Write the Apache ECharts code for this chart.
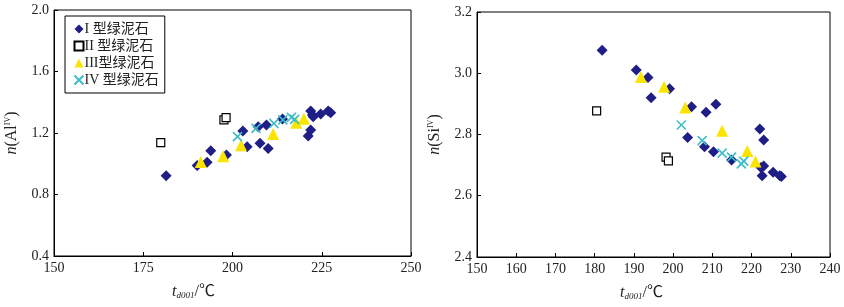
<!DOCTYPE html>
<html>
<head>
<meta charset="utf-8">
<script src="https://cdn.jsdelivr.net/npm/echarts@6/dist/echarts.min.js"></script>
<style>
  html, body { margin: 0; padding: 0; background: #fff; }
  #main { width: 844px; height: 307px; }
</style>
</head>
<body>
<div id="main"></div>
<script>
// 系列名称
var typeNames = ["I 型绿泥石", "II 型绿泥石", "III型绿泥石", "IV 型绿泥石"];

// 左图 n(AlIV) - t
var alTypeI = [[181.4,0.922],[190.1,0.988],[192.9,1.009],[193.9,1.085],[198.3,1.057],[202.9,1.213],
  [204.1,1.111],[207.2,1.241],[207.7,1.133],[209.5,1.252],[210.0,1.100],[214.0,1.291],[221.9,1.343],
  [222.4,1.317],[222.6,1.306],[221.9,1.220],[221.2,1.180],[224.7,1.324],[226.8,1.343],[227.5,1.332]];
var alTypeII = [[179.9,1.137],[197.6,1.285],[198.2,1.300]];
var alTypeIII = [[191.1,1.012],[197.4,1.049],[202.4,1.121],[211.4,1.194],[217.9,1.266],[220.0,1.292]];
var alTypeIV = [[201.4,1.176],[206.6,1.230],[211.6,1.263],[214.1,1.285],[216.5,1.302],[217.4,1.289]];

// 右图 n(SiIV) - t
var siTypeI = [[181.9,3.075],[190.6,3.011],[193.6,2.986],[194.4,2.920],[199.1,2.949],[203.7,2.790],
  [204.7,2.891],[208.0,2.760],[208.4,2.873],[210.3,2.744],[210.9,2.899],[214.9,2.717],[222.1,2.818],
  [223.1,2.782],[222.7,2.665],[223.1,2.697],[222.4,2.692],[225.5,2.677],[227.6,2.663],[227.2,2.665]];
var siTypeII = [[180.5,2.877],[198.2,2.726],[198.8,2.714]];
var siTypeIII = [[191.8,2.988],[197.7,2.956],[203.1,2.888],[212.5,2.812],[218.9,2.746],[221.0,2.712]];
var siTypeIV = [[202.1,2.831],[207.4,2.780],[212.5,2.739],[214.9,2.726],[217.4,2.704],[218.0,2.713]];

// 坐标轴刻度
var alXTicks = { min: 150, max: 250, interval: 25 };
var alYTicks = { min: 0.4, max: 2.0, interval: 0.4 };
var siXTicks = { min: 150, max: 240, interval: 10 };
var siYTicks = { min: 2.4, max: 3.2, interval: 0.2 };

var serif = "'Liberation Serif', 'Times New Roman', 'Noto Sans CJK SC', serif";
var crossPath = "path://M0,0L10,10M10,0L0,10";

function xAxisOf(idx, t, padRight) {
  return {
    gridIndex: idx, type: "value", min: t.min, max: t.max, interval: t.interval,
    name: "{t|t}{sub|d001}{n|/℃}", nameLocation: "middle", nameGap: 27,
    nameTextStyle: {
      padding: [0, padRight, 0, 0],
      rich: {
        t: { fontFamily: serif, fontStyle: "italic", fontSize: 16, color: "#222" },
        sub: { fontFamily: serif, fontStyle: "italic", fontSize: 9, color: "#222", padding: [8, 0, 0, 0] },
        n: { fontFamily: serif, fontSize: 16, color: "#222" }
      }
    },
    axisLine: { lineStyle: { color: "#000", width: 1 } },
    axisTick: { inside: true, length: 4, lineStyle: { color: "#000" } },
    axisLabel: { fontFamily: serif, fontSize: 14, color: "#222", margin: 5 },
    splitLine: { show: false }
  };
}

function yAxisOf(idx, t, elem) {
  return {
    gridIndex: idx, type: "value", min: t.min, max: t.max, interval: t.interval,
    name: "{n|n}{p|(" + elem + "}{sup|IV}{p|)}", nameLocation: "middle", nameGap: 34,
    nameTextStyle: {
      rich: {
        n: { fontFamily: serif, fontStyle: "italic", fontSize: 16, color: "#222" },
        p: { fontFamily: serif, fontSize: 16, color: "#222" },
        sup: { fontFamily: serif, fontSize: 8, color: "#222", padding: [0, 0, 8, 0] }
      }
    },
    axisLine: { lineStyle: { color: "#000", width: 1 } },
    axisTick: { inside: true, length: 4, lineStyle: { color: "#000" } },
    axisLabel: {
      fontFamily: serif, fontSize: 14, color: "#222", margin: 5,
      formatter: function (v) { return v.toFixed(1); }
    },
    splitLine: { show: false }
  };
}

function seriesOf(idx, d1, d2, d3, d4) {
  return [
    { name: typeNames[0], type: "scatter", xAxisIndex: idx, yAxisIndex: idx, data: d1,
      symbol: "diamond", symbolSize: 11, itemStyle: { color: "#1e1e86", opacity: 1 } },
    { name: typeNames[1], type: "scatter", xAxisIndex: idx, yAxisIndex: idx, data: d2,
      symbol: "rect", symbolSize: 8, itemStyle: { color: "#fff", borderColor: "#000", borderWidth: 1.2, opacity: 1 } },
    { name: typeNames[2], type: "scatter", xAxisIndex: idx, yAxisIndex: idx, data: d3,
      symbol: "triangle", symbolSize: 12, itemStyle: { color: "#fbe400", opacity: 1 } },
    { name: typeNames[3], type: "scatter", xAxisIndex: idx, yAxisIndex: idx, data: d4,
      symbol: crossPath, symbolSize: 9, itemStyle: { color: "none", borderColor: "#3dbec6", borderWidth: 1.6, opacity: 1 } }
  ];
}

var myChart = echarts.init(document.getElementById("main"), null, { renderer: "canvas" });
var option = {
  backgroundColor: "#fff",
  animation: false,
  grid: [
    { left: 54, top: 10, width: 357, height: 246, show: true, borderColor: "#000", borderWidth: 1, backgroundColor: "transparent" },
    { left: 477, top: 12, width: 353, height: 245, show: true, borderColor: "#000", borderWidth: 1, backgroundColor: "transparent" }
  ],
  legend: {
    orient: "vertical", left: 65, top: 16,
    data: [
      { name: typeNames[0], icon: "diamond" },
      { name: typeNames[1], icon: "rect" },
      { name: typeNames[2], icon: "triangle" },
      { name: typeNames[3], icon: crossPath }
    ],
    itemWidth: 9, itemHeight: 9, itemGap: 3,
    padding: [6, 6, 6, 7],
    borderColor: "#000", borderWidth: 1,
    textStyle: { fontFamily: serif, fontSize: 14, lineHeight: 14, color: "#222", padding: [0, 0, 0, -4] }
  },
  xAxis: [xAxisOf(0, alXTicks, 78), xAxisOf(1, siXTicks, 24)],
  yAxis: [yAxisOf(0, alYTicks, "Al"), yAxisOf(1, siYTicks, "Si")],
  series: seriesOf(0, alTypeI, alTypeII, alTypeIII, alTypeIV)
    .concat(seriesOf(1, siTypeI, siTypeII, siTypeIII, siTypeIV))
};
myChart.setOption(option, true);
</script>
</body>
</html>
